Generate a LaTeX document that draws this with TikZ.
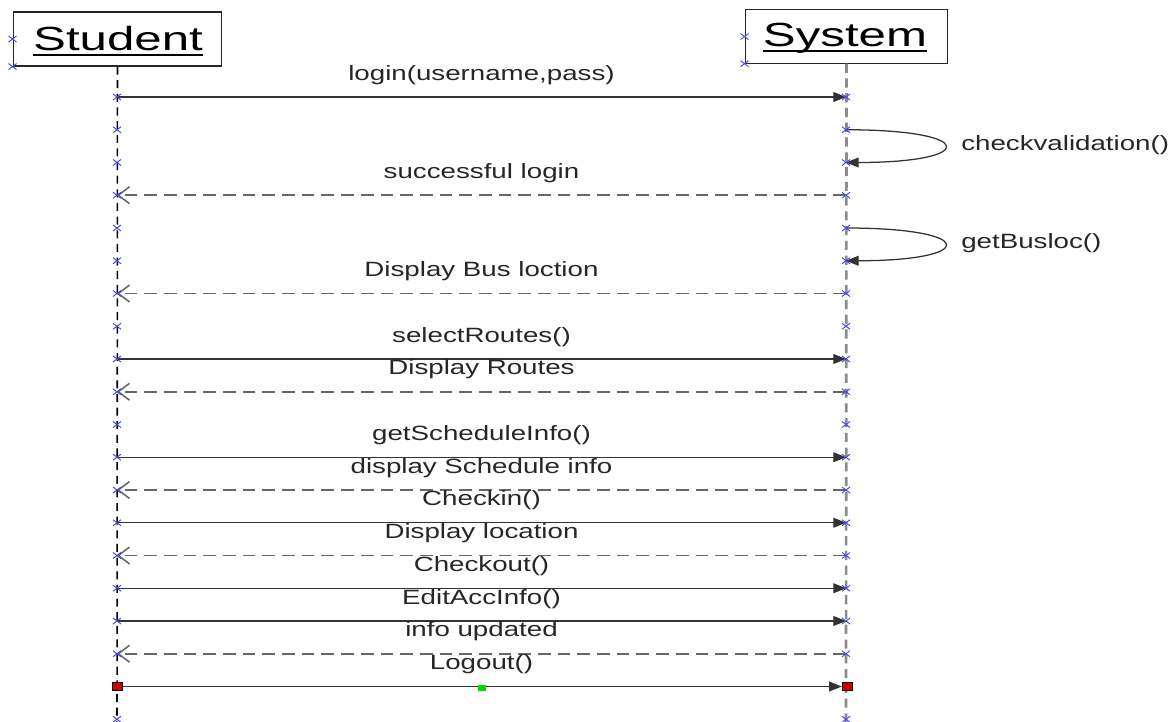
\documentclass[tikz,border=0pt]{standalone}
\usepackage{fontspec}
\newfontfamily\msgfont[FakeStretch=1.34]{Liberation Sans}
\newfontfamily\headfont[FakeStretch=1.47]{Liberation Sans}
\usetikzlibrary{arrows.meta}

\definecolor{markblue}{RGB}{70,70,245}
\tikzset{
  objbox/.style={draw=black!85, line width=0.8pt, inner sep=0pt},
  headtxt/.style={inner sep=0pt, anchor=base, font=\headfont\fontsize{23.8}{24}\selectfont},
  msg/.style={inner sep=0pt, anchor=base, text=black!85, font=\msgfont\fontsize{14.7}{15}\selectfont},
  call/.style={draw=black!80, line width=0.9pt, -{Triangle[length=9pt,width=7pt]}},
  reply/.style={draw=black!60, line width=1.1pt, dash pattern=on 9pt off 5pt,
    -{Straight Barb[length=8pt,width=12pt]}},
  stuline/.style={draw=black, line width=1.1pt, dash pattern=on 5.7pt off 4pt},
  sysline/.style={draw=black!45, line width=1.9pt, dash pattern=on 6.5pt off 4pt},
  endbox/.style={draw=black, fill=red!80!black, line width=0.6pt, inner sep=0pt,
    minimum width=7pt, minimum height=5.5pt},
  midbox/.style={fill=green!85!black, inner sep=0pt, minimum width=5.5pt, minimum height=4pt}
}
\newcommand\umark[1]{\draw[markblue, line width=0.65pt] (#1) ++(-4,-3) -- ++(8,6) ++(-8,0) -- ++(8,-6);}

\begin{document}
\begin{tikzpicture}[x=0.025cm, y=-0.025cm]
  \useasboundingbox (0,0) rectangle (1172,722);
  \def\rowstep{32.75}

  % objects
  \node[objbox, minimum width=5.22cm, minimum height=1.35cm] (stu) at (117.5,39) {};
  \node[objbox, minimum width=5.07cm, minimum height=1.33cm] (sys) at (846.5,36.5) {};
  \node[headtxt] (stuL) at (118,51) {Student};
  \node[headtxt] (sysL) at (845,47) {System};
  \draw[line width=1.3pt] ([yshift=-3pt]stuL.base west) -- ([yshift=-3pt]stuL.base east);
  \draw[line width=1.3pt] ([yshift=-3pt]sysL.base west) -- ([yshift=-3pt]sysL.base east);

  % lifelines
  \coordinate (stuEnd) at (117,722);
  \coordinate (sysEnd) at (846,722);
  \draw[stuline] (stu.south) -- (stuEnd);
  \draw[sysline] (sys.south) -- (sysEnd);

  \foreach \k in {0,...,19} {
    \path (117,{97+\k*\rowstep}) coordinate (st\k);
    \path (846,{97+\k*\rowstep}) coordinate (sy\k);
  }

  % messages
  \draw[call] (st0) -- (sy0) node[msg, midway, yshift=12pt] {login(username,pass)};
  \draw[call] (sy1) .. controls +(132,0) and +(132,0) .. (sy2);
  \node[msg, anchor=west] (chk) at (961,145) {checkvalidation()};
  \draw[reply] (sy3) -- (st3) node[msg, midway, yshift=12pt] {successful login};
  \draw[call] (sy4) .. controls +(132,0) and +(132,0) .. (sy5);
  \node[msg, anchor=west] (bus) at (961,243) {getBusloc()};
  \draw[reply] (sy6) -- (st6) node[msg, midway, yshift=12pt] {Display Bus loction};
  \draw[call] (st8) -- (sy8) node[msg, midway, yshift=12pt] {selectRoutes()};
  \draw[reply] (sy9) -- (st9) node[msg, midway, yshift=12pt] {Display Routes};
  \draw[call] (st11) -- (sy11) node[msg, midway, yshift=12pt] {getScheduleInfo()};
  \draw[reply] (sy12) -- (st12) node[msg, midway, yshift=12pt] {display Schedule info};
  \draw[call] (st13) -- (sy13) node[msg, midway, yshift=12pt] {Checkin()};
  \draw[reply] (sy14) -- (st14) node[msg, midway, yshift=12pt] {Display location};
  \draw[call] (st15) -- (sy15) node[msg, midway, yshift=12pt] {Checkout()};
  \draw[call] (st16) -- (sy16) node[msg, midway, yshift=12pt] {EditAccInfo()};
  \draw[reply] (sy17) -- (st17) node[msg, midway, yshift=12pt] {info updated};
  \draw[call, shorten >=3pt] (st18) -- (sy18) node[msg, midway, yshift=12pt] {Logout()};

  % event marks
  \foreach \k in {0,...,17,19} {
    \umark{st\k}
    \umark{sy\k}
  }
  \umark{stu.west}
  \umark{stu.south west}
  \umark{sys.west}
  \umark{sys.south west}

  \node[endbox] (lgA) at (st18) {};
  \node[endbox] (lgB) at ([xshift=1pt]sy18) {};
  \node[midbox] (lgM) at (482,688) {};
\end{tikzpicture}
\end{document}
